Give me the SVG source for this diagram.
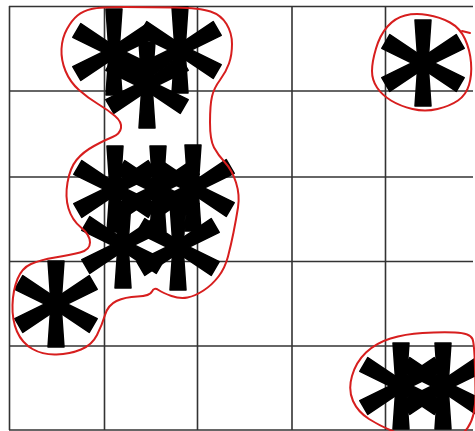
<svg xmlns="http://www.w3.org/2000/svg" width="475" height="431" viewBox="0 0 475 431">
<style>
.grid line{stroke:#333;stroke-width:1.6}
.ast{fill:#000;stroke:#000;stroke-width:1.5;stroke-linejoin:round}
.outline{fill:none;stroke:#d71e1e;stroke-width:2;stroke-linejoin:round;stroke-linecap:round}
</style>
<defs>
<path id="bar" d="M -8,-43 L 8,-43 L 5,0 L 8,43 L -8,43 L -5,0 Z"/>
<g id="star">
<use href="#bar"/>
<use href="#bar" transform="rotate(60)"/>
<use href="#bar" transform="rotate(120)"/>
</g>
</defs>
<rect width="475" height="431" fill="#fff"/>
<g class="grid" id="grid">
<line x1="9.5" y1="6" x2="9.5" y2="430"/>
<line x1="104.5" y1="6" x2="104.5" y2="430"/>
<line x1="197.5" y1="6" x2="197.5" y2="430"/>
<line x1="292" y1="6" x2="292" y2="430"/>
<line x1="385.5" y1="6" x2="385.5" y2="430"/>
<line x1="9" y1="6.5" x2="473" y2="6.5"/>
<line x1="9" y1="91" x2="473" y2="91"/>
<line x1="9" y1="177" x2="473" y2="177"/>
<line x1="9" y1="261.5" x2="473" y2="261.5"/>
<line x1="9" y1="346" x2="473" y2="346"/>
<line x1="9" y1="430" x2="473" y2="430"/>
</g>
<g class="ast">
<g id="a1"><use href="#star" transform="translate(114,52)"/></g>
<g id="a2"><use href="#star" transform="translate(180,50)"/></g>
<g id="a3"><use href="#star" transform="translate(147,85)"/></g>
<g id="b1"><use href="#star" transform="translate(115,189)"/></g>
<g id="b2"><use href="#star" transform="translate(158,189)"/></g>
<g id="b3"><use href="#star" transform="translate(193,188)"/></g>
<g id="b4"><use href="#star" transform="translate(123,245)"/></g>
<g id="b5"><use href="#star" transform="translate(178,247)"/></g>
<g id="c1"><use href="#star" transform="translate(56,304)"/></g>
<g id="d1"><use href="#star" transform="translate(423,63)"/></g>
<g id="e1"><use href="#star" transform="translate(401,386)"/></g>
<g id="e2"><use href="#star" transform="translate(443,386)"/></g>
</g>
<g id="outlines" class="outline">
<path id="outline-left" d="M 77.5,15.5 Q 83,11 91.5,9 Q 100,7 125,7 Q 150,7 175,7.5 Q 200,8 210.5,11.5 Q 221,15 226.5,24 Q 232,33 232,44 Q 232,55 229,63.5 Q 226,72 220,80 Q 214,88 212,96.5 Q 210,105 210,122.5 Q 210,140 214,147.5 Q 218,155 225,162.5 Q 232,170 236,182.5 Q 240,195 238,207.5 Q 236,220 233.5,232.5 Q 231,245 228,256.5 Q 225,268 218.5,276.5 Q 212,285 203.5,290.5 Q 195,296 187.5,297.5 Q 180,299 171.5,296 Q 163,293 158.5,290 Q 154,287 152,291.5 Q 150,296 137.5,296.5 Q 125,297 116.5,301 Q 108,305 105,315 Q 102,325 97,335 Q 92,345 81,349.5 Q 70,354 56.5,354.5 Q 43,355 32.5,349 Q 22,343 17,331.5 Q 12,320 12.5,305 Q 13,290 17.5,279 Q 22,268 31,264 Q 40,260 55,257.5 Q 70,255 80,252.5 Q 90,250 90,242.5 Q 90,235 81,227.5 Q 72,220 68.5,208.5 Q 65,197 67.5,182.5 Q 70,168 76.5,160 Q 83,152 94,146 Q 105,140 112.5,137 Q 120,134 121,128 Q 122,122 115,116 Q 108,110 98,104 Q 88,98 79,90 Q 70,82 65.5,71 Q 61,60 61.5,49 Q 62,38 67,29 Q 72,20 77.5,15.5 Z"/>
<path id="outline-tr" d="M 372,71 Q 372,62 376,48.5 Q 380,35 387.5,26.5 Q 395,18 405,15.5 Q 415,13 427.5,15 Q 440,17 450,22.5 Q 460,28 465,39 Q 470,50 471,62.5 Q 472,75 469,85 Q 466,95 458,100.5 Q 450,106 437.5,109 Q 425,112 412.5,109 Q 400,106 391,100.5 Q 382,95 377,87.5 Q 372,80 372,71 Z"/>
<path d="M 462,31 L 470,33"/>
<path id="outline-br" d="M 353,401 Q 348,390 352,376 Q 356,362 366,352.5 Q 376,343 390.5,338.5 Q 405,334 422.5,333 Q 440,332 455,332.5 Q 470,333 472.5,339 Q 475,345 475.5,392.5 Q 476,440 443,439 Q 410,438 395,432 Q 380,426 369,419 Q 358,412 353,401 Z"/>
</g>
</svg>
